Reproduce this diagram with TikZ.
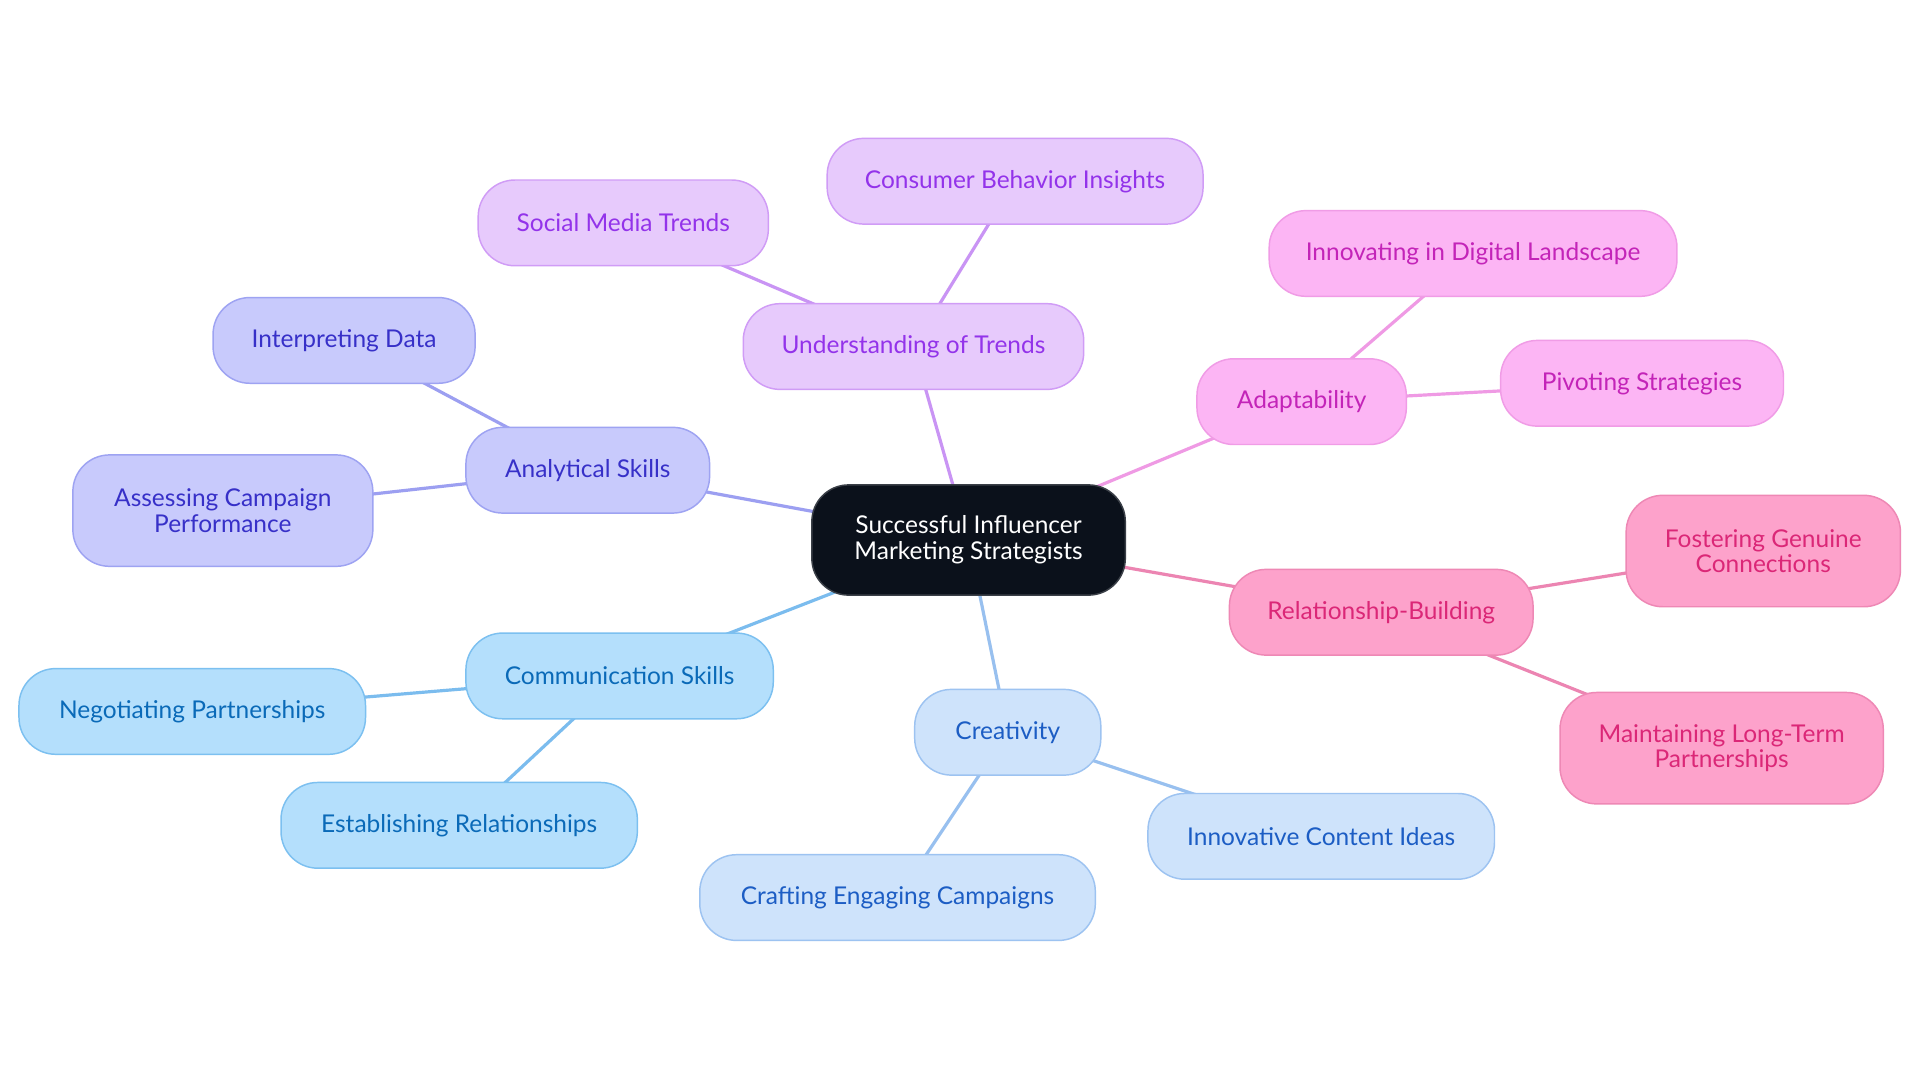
\documentclass[tikz,border=0pt]{standalone}
\usepackage{fontspec}
\setmainfont{Lato}
\pgfdeclarelayer{background}
\pgfsetlayers{background,main}
\definecolor{pfill}{HTML}{E7CAFC}\definecolor{pdraw}{HTML}{D09CF6}\definecolor{ptext}{HTML}{9333EA}\definecolor{pline}{HTML}{C994F4}
\definecolor{ifill}{HTML}{C8CAFC}\definecolor{idraw}{HTML}{9EA3F2}\definecolor{itext}{HTML}{3730C8}\definecolor{iline}{HTML}{9C9FF1}
\definecolor{sfill}{HTML}{B4DFFC}\definecolor{sdraw}{HTML}{7CC0F0}\definecolor{stext}{HTML}{0A6AB8}\definecolor{sline}{HTML}{7BBCEE}
\definecolor{bfill}{HTML}{CEE3FB}\definecolor{bdraw}{HTML}{9DC3F1}\definecolor{btext}{HTML}{1C5DC4}\definecolor{bline}{HTML}{98C0EF}
\definecolor{mfill}{HTML}{FCB5F4}\definecolor{mdraw}{HTML}{F09CE6}\definecolor{mtext}{HTML}{C324B8}\definecolor{mline}{HTML}{EF9AE4}
\definecolor{kfill}{HTML}{FDA2CB}\definecolor{kdraw}{HTML}{EE88B5}\definecolor{ktext}{HTML}{DB2777}\definecolor{kline}{HTML}{EC85B2}
\definecolor{cfill}{HTML}{0B111B}\definecolor{cdraw}{HTML}{3A3F47}
\begin{document}
\begin{tikzpicture}[x=1pt,y=-1pt,
  box/.style={rounded corners=30pt, line width=1.2pt, minimum height=70pt, inner xsep=8pt, inner ysep=25pt,
    align=center, font=\fontsize{20}{21}\selectfont},
  pbox/.style={box, fill=pfill, draw=pdraw, text=ptext},
  ibox/.style={box, fill=ifill, draw=idraw, text=itext},
  sbox/.style={box, fill=sfill, draw=sdraw, text=stext},
  bbox/.style={box, fill=bfill, draw=bdraw, text=btext},
  mbox/.style={box, fill=mfill, draw=mdraw, text=mtext},
  kbox/.style={box, fill=kfill, draw=kdraw, text=ktext},
  cbox/.style={box, fill=cfill, draw=cdraw, text=white},
  edge/.style={line width=2.6pt}
]
\useasboundingbox (0,0) rectangle (1568,884.4);

\node[cbox, minimum width=256pt, minimum height=90pt] (cen) at (791,441) {Successful Influencer\\Marketing Strategists};

\node[pbox, minimum width=278pt] (und) at (746,283) {Understanding of Trends};
\node[pbox, minimum width=237pt] (smt) at (509,182) {Social Media Trends};
\node[pbox, minimum width=307pt] (cbi) at (829,148) {Consumer Behavior Insights};

\node[ibox, minimum width=199pt] (ana) at (480,384) {Analytical Skills};
\node[ibox, minimum width=214pt] (int) at (281,278) {Interpreting Data};
\node[ibox, minimum width=245pt, minimum height=91pt] (acp) at (182,417) {Assessing Campaign\\Performance};

\node[sbox, minimum width=251pt] (com) at (506,552) {Communication Skills};
\node[sbox, minimum width=283pt] (neg) at (157,581) {Negotiating Partnerships};
\node[sbox, minimum width=291pt] (est) at (375,674) {Establishing Relationships};

\node[bbox, minimum width=152pt] (cre) at (823,598) {Creativity};
\node[bbox, minimum width=283pt] (ici) at (1079,683) {Innovative Content Ideas};
\node[bbox, minimum width=323pt] (cec) at (733,733) {Crafting Engaging Campaigns};

\node[mbox, minimum width=171pt] (ada) at (1063,328) {Adaptability};
\node[mbox, minimum width=333pt] (idl) at (1203,207) {Innovating in Digital Landscape};
\node[mbox, minimum width=231pt] (piv) at (1341,313) {Pivoting Strategies};

\node[kbox, minimum width=248pt] (rel) at (1128,500) {Relationship-Building};
\node[kbox, minimum width=224pt, minimum height=91pt] (fgc) at (1440,450) {Fostering Genuine\\Connections};
\node[kbox, minimum width=264pt, minimum height=91pt] (mlt) at (1406,611) {Maintaining Long-Term\\Partnerships};

\begin{pgfonlayer}{background}
\fill[white] (0,0) rectangle (1568,884.4);
\draw[edge, pline] (cen.center) -- (und.center);
\draw[edge, pline] (und.center) -- (smt.center);
\draw[edge, pline] (und.center) -- (cbi.center);
\draw[edge, iline] (cen.center) -- (ana.center);
\draw[edge, iline] (ana.center) -- (int.center);
\draw[edge, iline] (ana.center) -- (acp.center);
\draw[edge, sline] (cen.center) -- (com.center);
\draw[edge, sline] (com.center) -- (neg.center);
\draw[edge, sline] (com.center) -- (est.center);
\draw[edge, bline] (cen.center) -- (cre.center);
\draw[edge, bline] (cre.center) -- (ici.center);
\draw[edge, bline] (cre.center) -- (cec.center);
\draw[edge, mline] (cen.center) -- (ada.center);
\draw[edge, mline] (ada.center) -- (idl.center);
\draw[edge, mline] (ada.center) -- (piv.center);
\draw[edge, kline] (cen.center) -- (rel.center);
\draw[edge, kline] (rel.center) -- (fgc.center);
\draw[edge, kline] (rel.center) -- (mlt.center);
\end{pgfonlayer}
\end{tikzpicture}
\end{document}
